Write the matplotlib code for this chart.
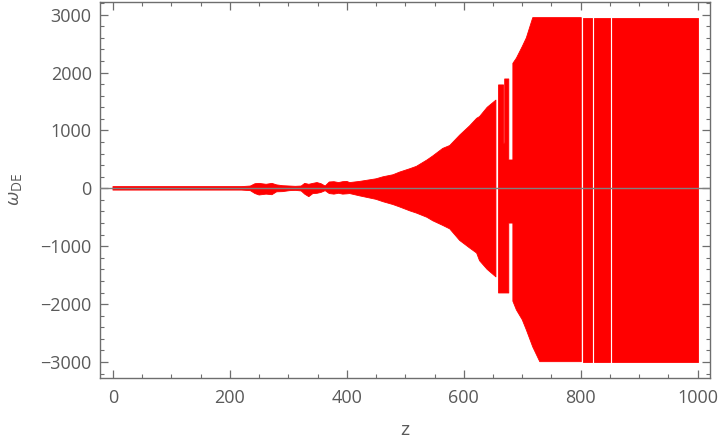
import numpy as np
import matplotlib
matplotlib.use("Agg")
import matplotlib.pyplot as plt
from matplotlib.ticker import MultipleLocator

plt.rcParams["font.family"] = ["Open Sans", "DejaVu Sans"]
plt.rcParams["mathtext.fontset"] = "custom"
plt.rcParams["mathtext.rm"] = "Open Sans"
plt.rcParams["mathtext.it"] = "Open Sans:italic"

# envelope of the (very dense) oscillating curve
# nan marks a white gap where the curve is missing
z_env = [0, 220, 235, 243, 250, 262, 272, 280, 290, 302, 312, 322, 328, 335,
         342, 349, 356, 363, 370, 378, 386, 393, 400, 405, 422, 450, 462, 479,
         490, 508, 519, 537, 547, 564, 576, 593, 610, 622, 627, 640, 655,
         657,
         659.5, 668, 668, 670, 670, 677, 677, 684, 684, 690, 700, 707, 718,
         730, 801,
         802,
         803.4, 819.3,
         820.5,
         822.7, 850.7,
         852.5,
         854.2, 1000]
w_upper = [30, 30, 40, 80, 86, 70, 86, 60, 46, 40, 35, 40, 86, 70,
           86, 100, 80, 40, 110, 115, 100, 115, 120, 100, 120, 165, 200, 235,
           280, 340, 380, 490, 560, 690, 740, 920, 1080, 1210, 1240, 1400, 1525,
           np.nan,
           1787, 1787, 780, 780, 1890, 1890, 490, 490, 2160, 2250, 2450, 2600, 2950,
           2950, 2950,
           np.nan,
           2950, 2950,
           np.nan,
           2950, 2950,
           np.nan,
           2950, 2950]
w_lower = [-30, -30, -40, -90, -115, -100, -110, -60, -57, -40, -35, -45, -100, -144,
           -90, -86, -70, -40, -90, -100, -85, -100, -95, -90, -130, -190, -231, -280,
           -320, -390, -427, -500, -560, -640, -700, -900, -1030, -1118, -1250, -1400, -1530,
           np.nan,
           -1808, -1808, -1808, -1808, -1808, -1808, -600, -600, -1950, -2100, -2270, -2445, -2740,
           -2995, -2995,
           np.nan,
           -2995, -2995,
           np.nan,
           -2995, -2995,
           np.nan,
           -2995, -2995]

x_ticks = [0, 200, 400, 600, 800, 1000]
y_ticks = [-3000, -2000, -1000, 0, 1000, 2000, 3000]

fig = plt.figure(figsize=(7.2, 4.43), dpi=100)
ax = fig.add_axes([0.139, 0.147, 0.847, 0.8485])

z = np.array(z_env, dtype=float)
up = np.array(w_upper, dtype=float)
lo = np.array(w_lower, dtype=float)
ax.fill_between(z, lo, up, color="#ff0000", lw=0.6, edgecolor="#ff0000")

ax.axhline(0, color="#808080", lw=1.0, zorder=3)

ax.set_xlim(-22, 1021)
ax.set_ylim(-3275, 3220)
ax.set_xticks(x_ticks)
ax.set_yticks(y_ticks)
ax.xaxis.set_minor_locator(MultipleLocator(50))
ax.yaxis.set_minor_locator(MultipleLocator(200))

grey = "#6e6e6e"
for s in ax.spines.values():
    s.set_color(grey)
    s.set_linewidth(1.0)
ax.tick_params(which="both", direction="in", top=True, right=True, color=grey,
               labelcolor="#5a5a5a", labelsize=13)
ax.tick_params(which="major", length=5.5, width=0.9)
ax.tick_params(which="minor", length=3, width=0.8)
ax.tick_params(axis="x", pad=8)
ax.tick_params(axis="y", pad=6)

ax.set_xlabel("z", fontsize=14, color="#5a5a5a", labelpad=10)
ax.set_ylabel(r"$\omega_{\mathrm{DE}}$", fontsize=14, color="#5a5a5a", labelpad=12)

fig.savefig("out.png", dpi=100)
